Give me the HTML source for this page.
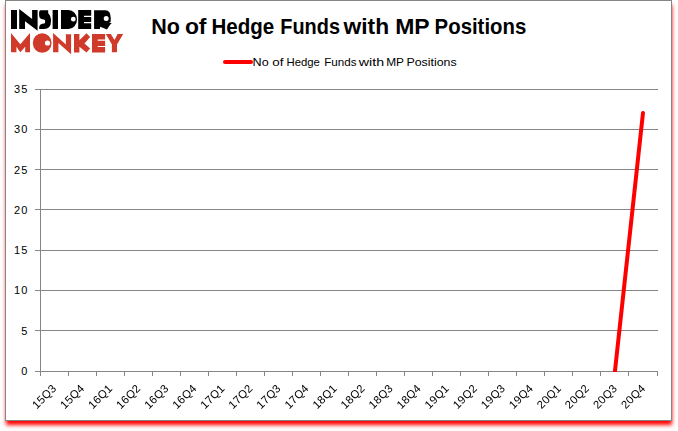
<!DOCTYPE html>
<html><head><meta charset="utf-8"><style>
html,body{margin:0;padding:0;background:#fff;width:678px;height:431px;overflow:hidden}
#frame{position:absolute;left:5px;top:0;width:665px;height:419px;border:1px solid #868686;background:#fff;box-shadow:0.6px 4.6px 4px -0.6px #ff0000}
svg{position:absolute;left:0;top:0}
text{font-family:"Liberation Sans",sans-serif}
</style></head><body>
<div id="frame"></div>
<svg width="678" height="431" viewBox="0 0 678 431">
<g fill="#000">
<path d="M11,10H17V29H11Z"/>
<path d="M19.2,9L32.1,19V10H37.6V30.7L25,21.2V29H19.2Z"/>
<path d="M40.8,10.2H48.2V13.2Q51,15.8 51,21Q51,29 44,29H39.2V26.8Q40.2,23.5 44.2,23.5Q45.2,23.5 45.2,21.5Q45.2,19.4 44,19.4H43.5Q39.1,19.4 39.1,15V12.5Q39.1,10.2 40.8,10.2Z"/>
<path d="M52.6,10H58V29H52.6Z"/>
<path fill-rule="evenodd" d="M61,10H68.5A8.5,9.5 0 0 1 77,19.5A8.5,9.5 0 0 1 68.5,29H61Z M70.9,19.2a2.4,2.4 0 1,0 4.8,0a2.4,2.4 0 1,0 -4.8,0Z"/>
<path d="M78.2,10H91.2V15.8H84V17H91.2V22H84V23.2H91.2V29H78.2Z"/>
<path fill-rule="evenodd" d="M94.1,10.2H105.4Q110.7,10.5 110.7,17.5V21.5Q110.5,22.5 108.7,22.8L111.8,23L110.1,24.7L107,29.4L100.3,26.8L99.8,28.9H94.1Z M103.7,18.6a2.5,2.5 0 1,0 5,0a2.5,2.5 0 1,0 -5,0Z"/>
</g>
<g fill="#d03a2a">
<path d="M11,33L20.3,44.3L30,33V52.2H25.2V46.8L20.3,52.2L16.4,46.8V52.2H11Z"/>
<path fill-rule="evenodd" d="M32.8,43a9.4,9.8 0 1,0 18.8,0a9.4,9.8 0 1,0 -18.8,0Z M44.9,43a2.6,2.6 0 1,0 5.2,0a2.6,2.6 0 1,0 -5.2,0Z"/>
<path d="M53.1,33L65.9,44.6V34.2H71.1V54.3L58.4,43V52.2H53.1Z"/>
<path d="M74,34H79.4V40.2L86.5,33.3L90.1,37.1L84.5,43.5L90.1,48.6L86.5,52.4L79.4,46.8V52.4H74Z"/>
<path d="M92,34H105.1V39.6H97.7V40.8H105.1V45.9H97.7V47.1H105.1V52.6H92Z"/>
<path d="M105.8,34H110.8L114.5,40L117.6,34H123.2L117,44.5V52.2H111.9V44.5Z"/>
</g>

<g font-size="21.5" font-weight="bold" fill="#000">
<text x="151.30" y="34" textLength="28.70" lengthAdjust="spacingAndGlyphs">No</text>
<text x="184.90" y="34" textLength="21.60" lengthAdjust="spacingAndGlyphs">of</text>
<text x="211.40" y="34" textLength="62.80" lengthAdjust="spacingAndGlyphs">Hedge</text>
<text x="280.30" y="34" textLength="59.70" lengthAdjust="spacingAndGlyphs">Funds</text>
<text x="343.50" y="34" textLength="45.60" lengthAdjust="spacingAndGlyphs">with</text>
<text x="395.20" y="34" textLength="34.50" lengthAdjust="spacingAndGlyphs">MP</text>
<text x="434.60" y="34" textLength="91.70" lengthAdjust="spacingAndGlyphs">Positions</text>
</g>
<line x1="225" y1="62" x2="251" y2="62" stroke="#ff0000" stroke-width="4" stroke-linecap="round"/>
<g font-size="11" fill="#000">
<text x="252.60" y="65.7" textLength="16.10" lengthAdjust="spacingAndGlyphs">No</text>
<text x="272.20" y="65.7" textLength="11.20" lengthAdjust="spacingAndGlyphs">of</text>
<text x="286.50" y="65.7" textLength="33.40" lengthAdjust="spacingAndGlyphs">Hedge</text>
<text x="324.20" y="65.7" textLength="32.30" lengthAdjust="spacingAndGlyphs">Funds</text>
<text x="358.80" y="65.7" textLength="25.30" lengthAdjust="spacingAndGlyphs">with</text>
<text x="386.20" y="65.7" textLength="17.80" lengthAdjust="spacingAndGlyphs">MP</text>
<text x="406.40" y="65.7" textLength="50.30" lengthAdjust="spacingAndGlyphs">Positions</text>
</g>
<g stroke="#868686" stroke-width="1" shape-rendering="crispEdges">
<line x1="35" y1="89.5" x2="657.5" y2="89.5"/>
<line x1="35" y1="129.5" x2="657.5" y2="129.5"/>
<line x1="35" y1="169.5" x2="657.5" y2="169.5"/>
<line x1="35" y1="209.5" x2="657.5" y2="209.5"/>
<line x1="35" y1="250.5" x2="657.5" y2="250.5"/>
<line x1="35" y1="290.5" x2="657.5" y2="290.5"/>
<line x1="35" y1="330.5" x2="657.5" y2="330.5"/>
<line x1="35" y1="371.5" x2="657.5" y2="371.5"/>
<line x1="40.5" y1="89" x2="40.5" y2="376"/>
<line x1="40.5" y1="371" x2="40.5" y2="376"/>
<line x1="68.5" y1="371" x2="68.5" y2="376"/>
<line x1="96.5" y1="371" x2="96.5" y2="376"/>
<line x1="124.5" y1="371" x2="124.5" y2="376"/>
<line x1="152.5" y1="371" x2="152.5" y2="376"/>
<line x1="180.5" y1="371" x2="180.5" y2="376"/>
<line x1="208.5" y1="371" x2="208.5" y2="376"/>
<line x1="236.5" y1="371" x2="236.5" y2="376"/>
<line x1="264.5" y1="371" x2="264.5" y2="376"/>
<line x1="292.5" y1="371" x2="292.5" y2="376"/>
<line x1="320.5" y1="371" x2="320.5" y2="376"/>
<line x1="348.5" y1="371" x2="348.5" y2="376"/>
<line x1="376.5" y1="371" x2="376.5" y2="376"/>
<line x1="404.5" y1="371" x2="404.5" y2="376"/>
<line x1="432.5" y1="371" x2="432.5" y2="376"/>
<line x1="460.5" y1="371" x2="460.5" y2="376"/>
<line x1="488.5" y1="371" x2="488.5" y2="376"/>
<line x1="516.5" y1="371" x2="516.5" y2="376"/>
<line x1="544.5" y1="371" x2="544.5" y2="376"/>
<line x1="572.5" y1="371" x2="572.5" y2="376"/>
<line x1="600.5" y1="371" x2="600.5" y2="376"/>
<line x1="628.5" y1="371" x2="628.5" y2="376"/>
<line x1="657.5" y1="371" x2="657.5" y2="376"/>
</g>
<g font-size="11" letter-spacing="1.1" text-anchor="end" fill="#000">
<text x="28.5" y="93.00">35</text>
<text x="28.5" y="133.29">30</text>
<text x="28.5" y="173.57">25</text>
<text x="28.5" y="213.86">20</text>
<text x="28.5" y="254.14">15</text>
<text x="28.5" y="294.43">10</text>
<text x="28.5" y="334.71">5</text>
<text x="28.5" y="375.00">0</text>
</g>
<filter id="gs" x="0" y="370" width="678" height="61" filterUnits="userSpaceOnUse"><feOffset dx="0" dy="0"/></filter>
<g font-size="11.3" letter-spacing="0.3" text-anchor="end" fill="#000" filter="url(#gs)">
<text transform="translate(57.12,389) rotate(-45)">15Q3</text>
<text transform="translate(85.17,389) rotate(-45)">15Q4</text>
<text transform="translate(113.21,389) rotate(-45)">16Q1</text>
<text transform="translate(141.26,389) rotate(-45)">16Q2</text>
<text transform="translate(169.30,389) rotate(-45)">16Q3</text>
<text transform="translate(197.35,389) rotate(-45)">16Q4</text>
<text transform="translate(225.40,389) rotate(-45)">17Q1</text>
<text transform="translate(253.44,389) rotate(-45)">17Q2</text>
<text transform="translate(281.49,389) rotate(-45)">17Q3</text>
<text transform="translate(309.53,389) rotate(-45)">17Q4</text>
<text transform="translate(337.58,389) rotate(-45)">18Q1</text>
<text transform="translate(365.62,389) rotate(-45)">18Q2</text>
<text transform="translate(393.67,389) rotate(-45)">18Q3</text>
<text transform="translate(421.71,389) rotate(-45)">18Q4</text>
<text transform="translate(449.76,389) rotate(-45)">19Q1</text>
<text transform="translate(477.80,389) rotate(-45)">19Q2</text>
<text transform="translate(505.85,389) rotate(-45)">19Q3</text>
<text transform="translate(533.90,389) rotate(-45)">19Q4</text>
<text transform="translate(561.94,389) rotate(-45)">20Q1</text>
<text transform="translate(589.99,389) rotate(-45)">20Q2</text>
<text transform="translate(618.03,389) rotate(-45)">20Q3</text>
<text transform="translate(646.08,389) rotate(-45)">20Q4</text>
</g>
<clipPath id="pc"><rect x="40" y="0" width="620" height="372"/></clipPath>
<g clip-path="url(#pc)">
<line x1="614.93" y1="371.5" x2="642.98" y2="113.0" stroke="#ff0000" stroke-width="4" stroke-linecap="round"/>
</g>
</svg>
</body></html>
